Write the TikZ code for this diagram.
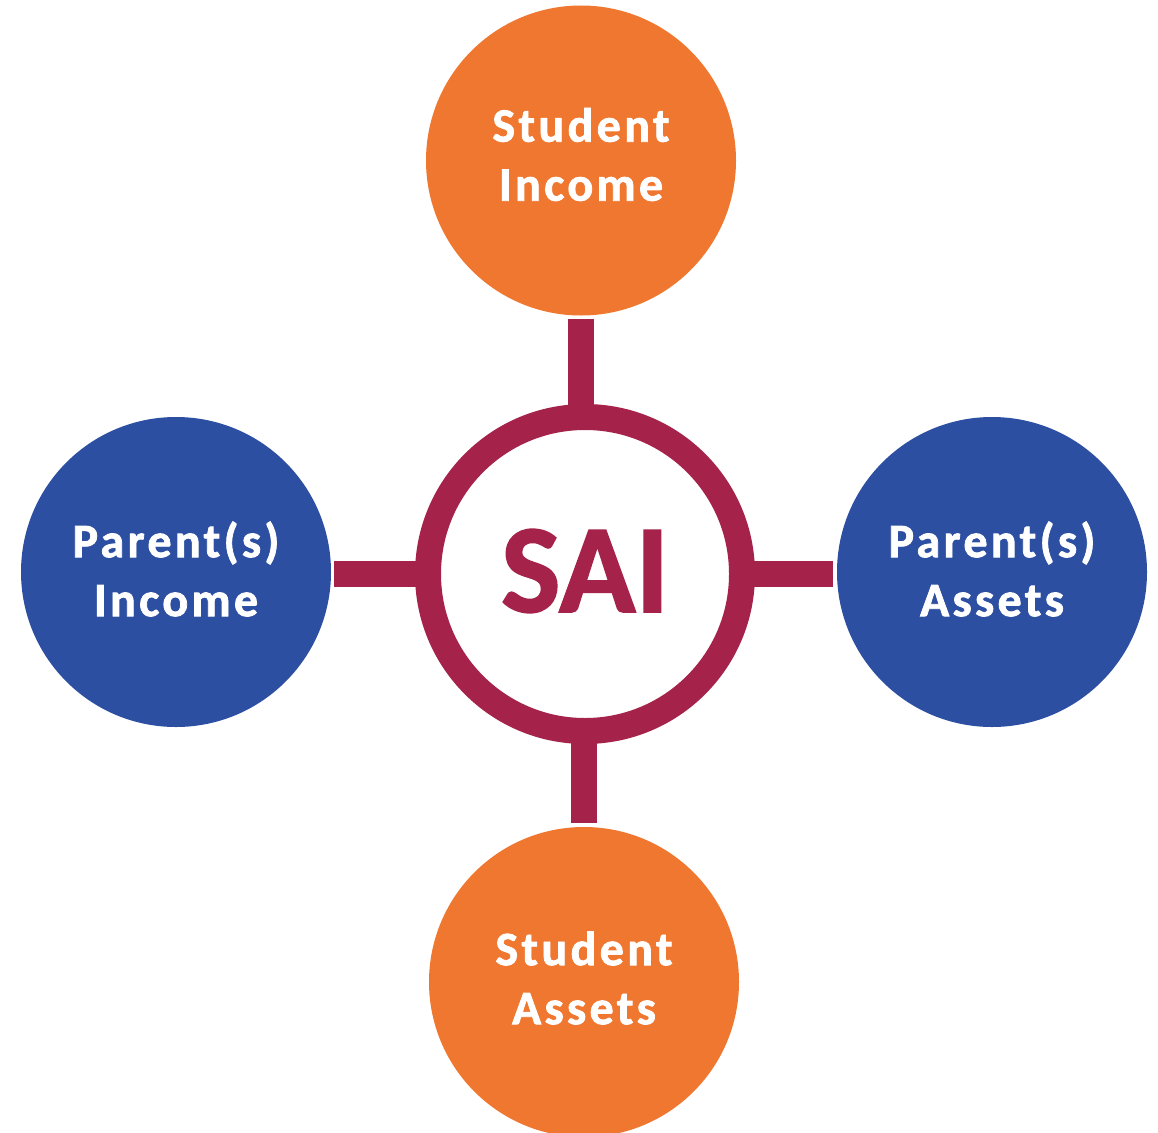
\documentclass[tikz,border=0pt]{standalone}
\usepackage{fontspec}
\setmainfont{Carlito}
\newfontfamily\lblfont[LetterSpace=7,BoldFeatures={FakeBold=1.6}]{Carlito}
\newfontfamily\hubfont[BoldFeatures={FakeBold=1.4}]{Carlito}
\usetikzlibrary{backgrounds}
\definecolor{saiorange}{HTML}{F0772F}
\definecolor{saiblue}{HTML}{2D4FA2}
\definecolor{saimaroon}{HTML}{A5234B}
\begin{document}
\begin{tikzpicture}[x=1pt,y=-1pt,
  factor/.style={circle,minimum size=310pt,inner sep=0pt,outer sep=0pt},
  student/.style={factor,fill=saiorange},
  parent/.style={factor,fill=saiblue},
  label/.style={text=white,align=center,inner sep=0pt,
    font=\lblfont\bfseries\fontsize{48}{59}\selectfont},
  hub/.style={circle,minimum size=314pt,inner sep=0pt,draw=saimaroon,
    line width=26pt,fill=white,text=saimaroon},
  hubtext/.style={text=saimaroon,inner sep=0pt,
    font=\hubfont\bfseries\fontsize{126}{126}\selectfont},
  bar/.style={draw=saimaroon,line width=26pt}]
  \clip (0,0) rectangle (1158,1132);
  % the four factors
  \node[student] (si) at (581,160.5) {};
  \node[student] (sa) at (584,982) {};
  \node[parent]  (pi) at (176,572) {};
  \node[parent]  (pa) at (992,572) {};
  \node[label] (sit) at ([yshift=6pt]si.center) {Student\\Income};
  \node[label] (sat) at ([yshift=4pt]sa.center) {Student\\Assets};
  \node[label] (pit) at ([yshift=3pt]pi.center) {Parent(s)\\Income};
  \node[label] (pat) at ([yshift=3pt]pa.center) {Parent(s)\\Assets};
  % the central index
  \node[hub] (sai) at (585,574) {};
  \node[hubtext] (sait) at ([yshift=3pt]sai.center) {SAI};
  % spokes joining each factor to the ring
  \begin{scope}[on background layer]
    \fill[white] (0,0) rectangle (1158,1132);
    \draw[bar] ([yshift=-3pt]si.south) -- (sai.center -| si.south);
    \draw[bar] ([yshift=4pt]sa.north) -- (sai.center -| sa.north);
    \draw[bar] ([xshift=3pt]pi.east |- sai.center) -- (sai.center);
    \draw[bar] ([xshift=-4pt]pa.west |- sai.center) -- (sai.center);
  \end{scope}
\end{tikzpicture}
\end{document}
